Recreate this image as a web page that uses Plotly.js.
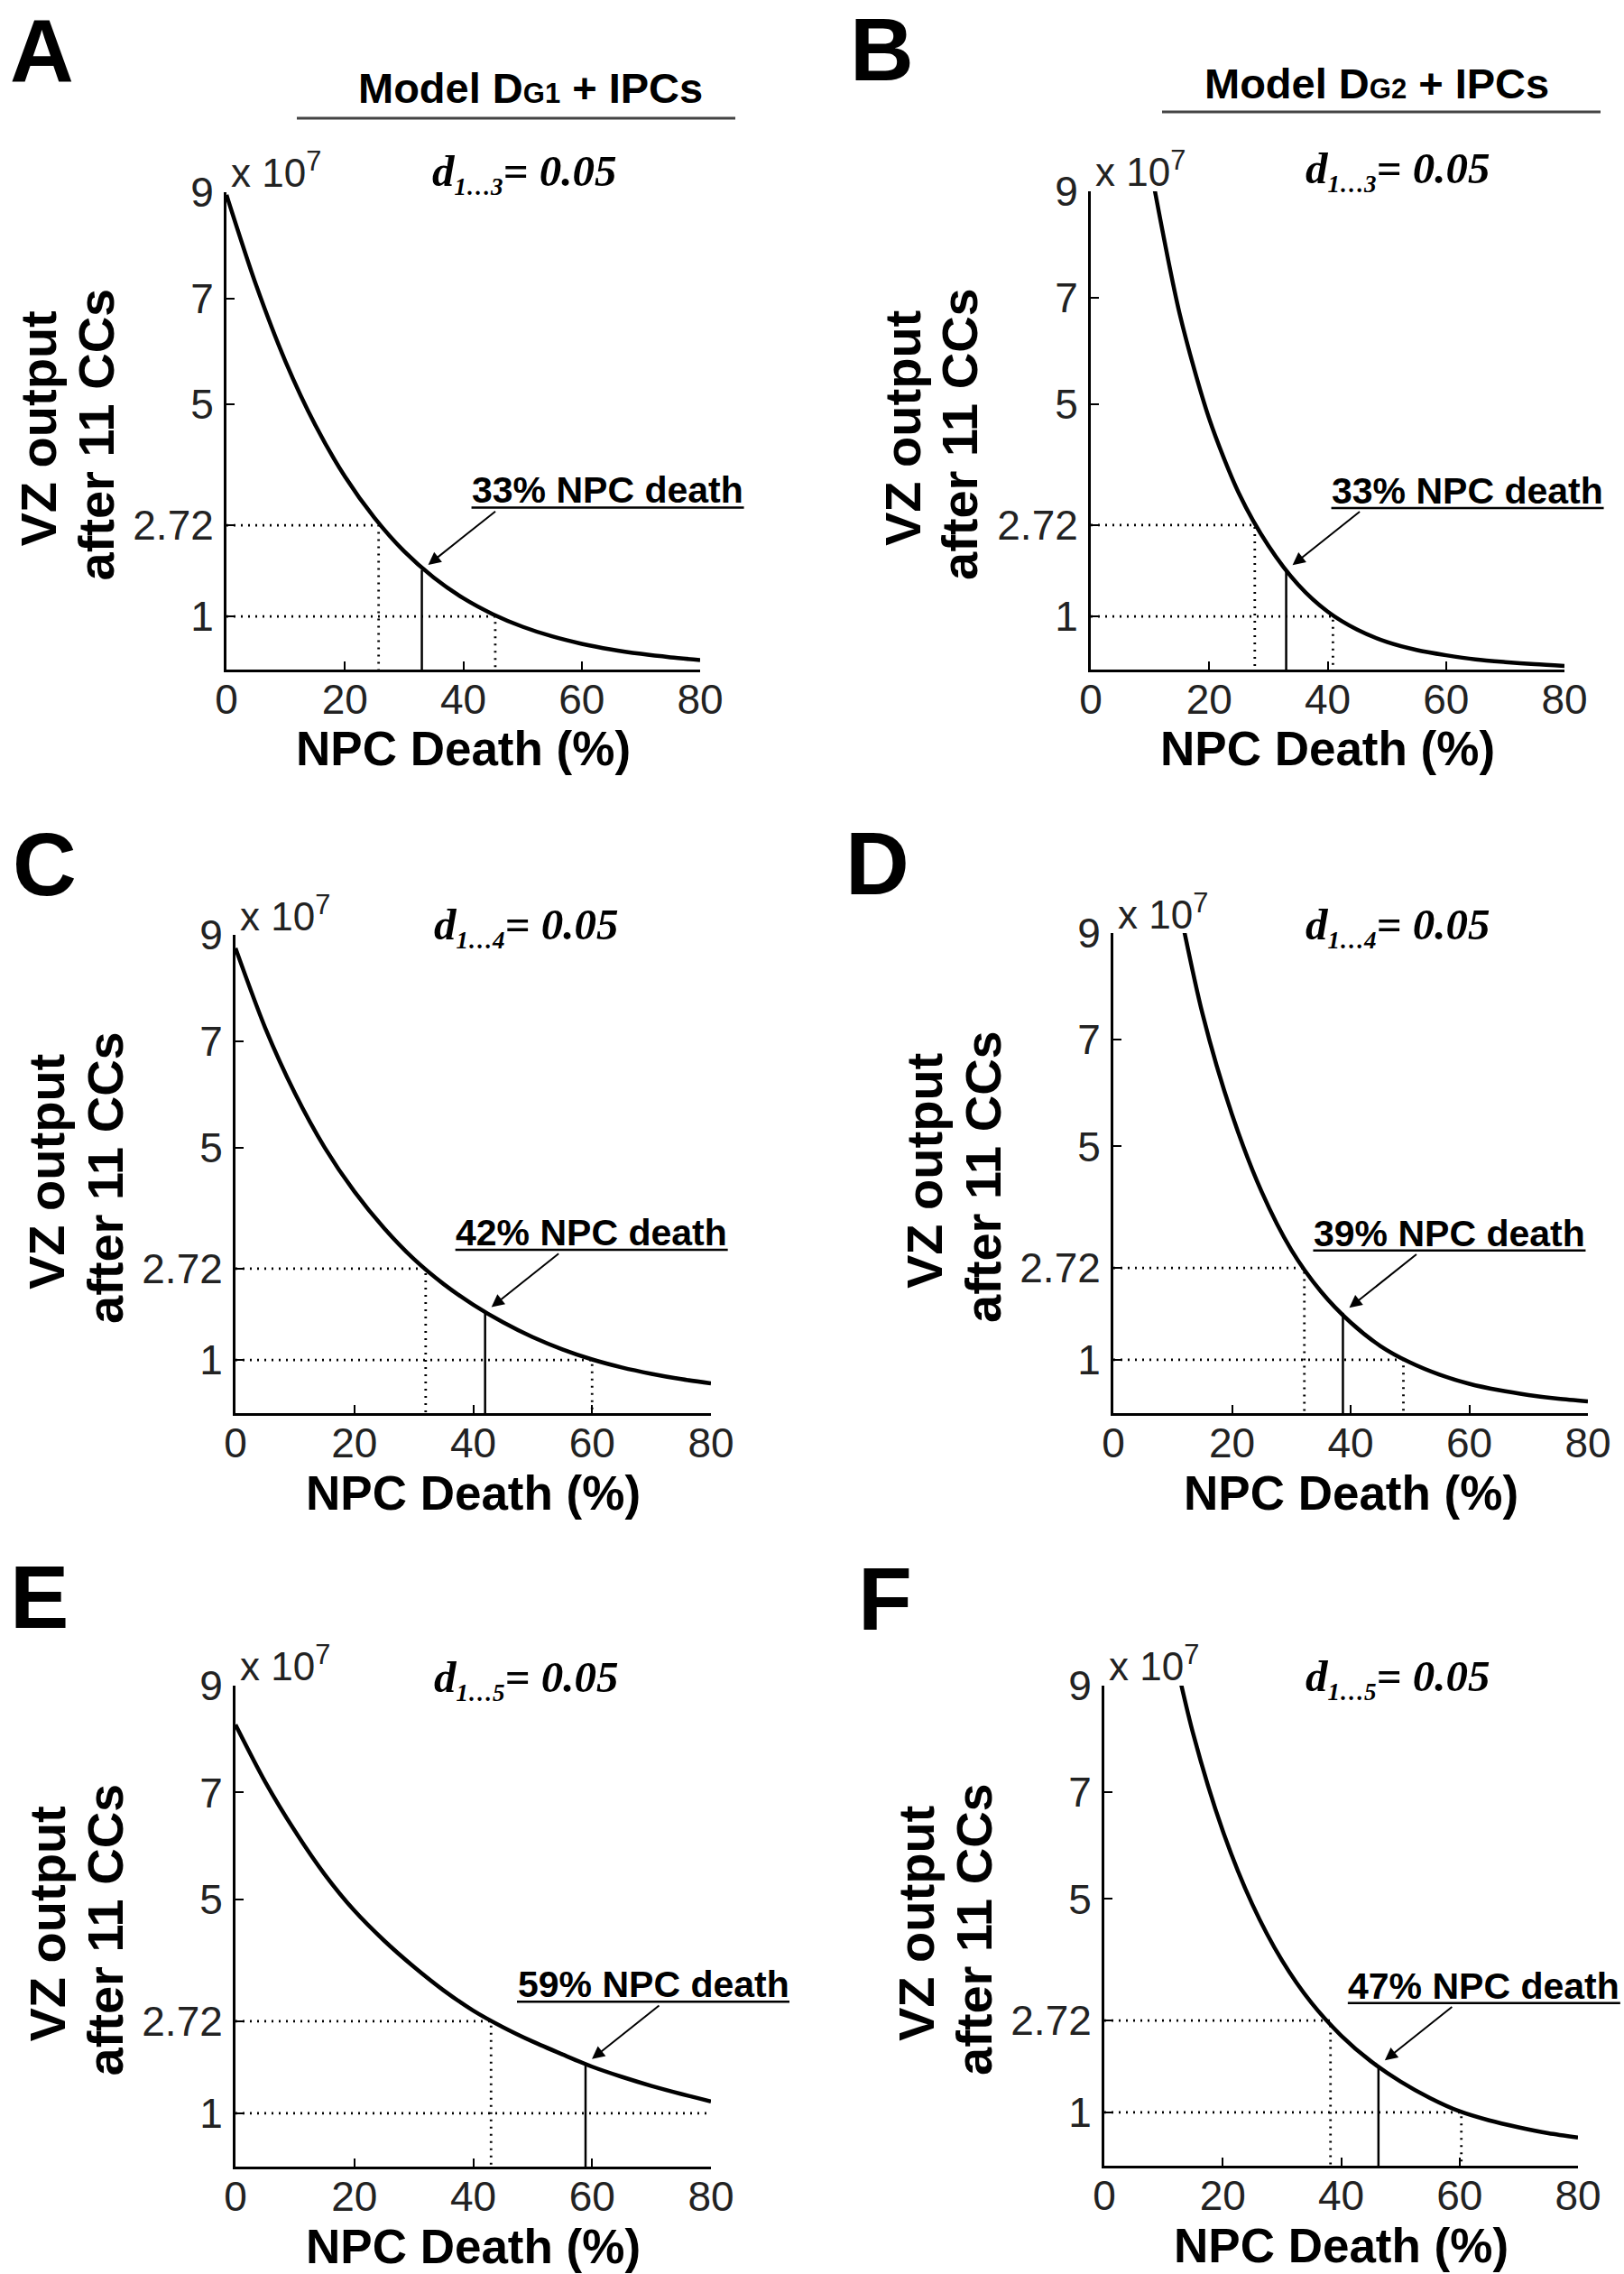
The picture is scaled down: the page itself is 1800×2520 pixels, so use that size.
<!DOCTYPE html>
<html>
<head>
<meta charset="utf-8">
<script src="https://cdn.plot.ly/plotly-3.0.1.min.js"></script>
<style>
  body { margin: 0; background: #fff; }
</style>
</head>
<body>
<div id="fig" style="width:1800px;height:2520px"></div>
<script>
W = 1800;
H = 2520;

// NPC death (%) where the curves were read
const deathPct = [0, 5, 10, 15, 20, 25, 30, 35, 40, 45, 50, 55, 60, 65, 70, 75, 80];
const deathPctLate = [10, 15, 20, 25, 30, 35, 40, 45, 50, 55, 60, 65, 70, 75, 80];

// VZ output after 11 CCs (x 10^7)
const vzA = [8.95, 7.25, 5.8, 4.61, 3.64, 2.86, 2.23, 1.735, 1.345, 1.043, 0.808, 0.626, 0.486, 0.379, 0.296, 0.231, 0.18];
const vzB = [9.5, 6.7, 4.72, 3.32, 2.33, 1.6, 1.09, 0.75, 0.52, 0.37, 0.27, 0.19, 0.14, 0.1, 0.07];
const vzC = [8.75, 7.25, 6.02, 5.0, 4.17, 3.48, 2.9, 2.43, 2.04, 1.71, 1.43, 1.2, 1.01, 0.86, 0.74, 0.64, 0.56];
const vzD = [10.1, 7.5, 5.6, 4.15, 3.06, 2.28, 1.7, 1.26, 0.95, 0.72, 0.55, 0.43, 0.34, 0.27, 0.22];
const vzE = [8.27, 7.2, 6.28, 5.47, 4.79, 4.23, 3.74, 3.3, 2.92, 2.61, 2.34, 2.1, 1.87, 1.68, 1.51, 1.36, 1.22];
const vzF = [10.5, 8.1, 6.28, 4.9, 3.85, 3.05, 2.44, 1.96, 1.58, 1.27, 1.02, 0.85, 0.72, 0.61, 0.53];

const panelLetters = ["A", "B", "C", "D", "E", "F"];
const dSubs = ["1\u20263", "1\u20263", "1\u20264", "1\u20264", "1\u20265", "1\u20265"];
const dValue = "0.05";

// where the curves cross 2.72 and 1 (null: never reaches 1)
const cross272 = [25.7, 27.7, 32.0, 32.2, 43.0, 38.2];
const cross1 = [45.4, 40.9, 60.0, 48.9, null, 60.3];

// marked NPC death and the curve value there
const markX = [33, 33, 42, 38.7, 58.9, 46.3];
const markY = [1.88, 1.87, 1.9, 1.88, 1.92, 1.88];
const markLabels = ["33% NPC death", "33% NPC death", "42% NPC death", "39% NPC death", "59% NPC death", "47% NPC death"];

const xTickVals = [0, 20, 40, 60, 80];
const yTickVals = [1, 2.72, 5, 7, 9];
const yTickText = ["1", "2.72", "5", "7", "9"];

const curves = [
    [deathPct, vzA], [deathPctLate, vzB],
    [deathPct, vzC], [deathPctLate, vzD],
    [deathPct, vzE], [deathPctLate, vzF]
];

// plot boxes in pixels
const boxes = [
    { l: 251, r: 776, t: 213, b: 742 },
    { l: 1209, r: 1734, t: 212, b: 742 },
    { l: 261, r: 788, t: 1036, b: 1566 },
    { l: 1234, r: 1760, t: 1034, b: 1566 },
    { l: 261, r: 788, t: 1868, b: 2401 },
    { l: 1224, r: 1749, t: 1868, b: 2400 }
];
const letterPos = [[9, 56], [940, 55], [12, 958], [935, 957], [9, 1770], [949, 1772]];
const dLabelPos = [[581, 192], [1549, 189], [583, 1027], [1549, 1027], [583, 1861], [1549, 1860]];
const labelDx = [206, 201, 118, 118, 75, 117];

const SANS = "Liberation Sans, Arial, Helvetica, sans-serif";
const SERIF = "Liberation Serif, Times New Roman, serif";

function px(p) { return p / W; }
function py(p) { return 1 - p / H; }
function dataPx(i, x) { return boxes[i].l + x / 80 * (boxes[i].r - boxes[i].l); }
function dataPy(i, y) { return boxes[i].b - y / 9 * (boxes[i].b - boxes[i].t); }

let traces = [];
let layout = {
    width: W,
    height: H,
    margin: { l: 0, r: 0, t: 0, b: 0 },
    paper_bgcolor: "#fff",
    plot_bgcolor: "rgba(0,0,0,0)",
    showlegend: false,
    hovermode: false,
    annotations: [],
    shapes: []
};

for (let i = 0; i < 6; i++) {
    let s = i == 0 ? "" : String(i + 1);
    let xa = "x" + s, ya = "y" + s;
    let box = boxes[i];

    traces.push({
        x: curves[i][0],
        y: curves[i][1],
        xaxis: xa, yaxis: ya,
        mode: "lines",
        line: { color: "#000", width: 4.5, shape: "spline", smoothing: 0.8 }
    });

    // dotted guides at 2.72 and 1
    let gx = [0, cross272[i], cross272[i], null, 0];
    let gy = [2.72, 2.72, 0, null, 1];
    if (cross1[i] === null) {
        gx.push(80); gy.push(1);
    } else {
        gx.push(cross1[i], cross1[i]); gy.push(1, 0);
    }
    traces.push({
        x: gx, y: gy,
        xaxis: xa, yaxis: ya,
        mode: "lines",
        line: { color: "#000", width: 2.8, dash: "2px,6px" }
    });

    // solid marker line
    traces.push({
        x: [markX[i], markX[i]],
        y: [0, markY[i]],
        xaxis: xa, yaxis: ya,
        mode: "lines",
        line: { color: "#000", width: 2.5 }
    });

    let axCommon = {
        showline: true,
        linewidth: 3,
        linecolor: "#000",
        ticks: "inside",
        ticklen: 9,
        tickwidth: 2,
        tickcolor: "#000",
        showgrid: false,
        zeroline: false,
        fixedrange: true,
        tickfont: { family: SANS, size: 46, color: "#222" }
    };
    layout["xaxis" + s] = Object.assign({}, axCommon, {
        domain: [px(box.l), px(box.r)],
        range: [0, 80],
        anchor: ya,
        tickvals: xTickVals,
        ticklabelstandoff: -9
    });
    layout["yaxis" + s] = Object.assign({}, axCommon, {
        domain: [py(box.b), py(box.t)],
        range: [0, 9],
        anchor: xa,
        tickvals: yTickVals,
        ticktext: yTickText,
        ticklabelstandoff: 2
    });

    let ann = layout.annotations;

    ann.push({
        xref: "paper", yref: "paper",
        x: px(letterPos[i][0]), y: py(letterPos[i][1]),
        xanchor: "left", yanchor: "middle", showarrow: false,
        text: "<b>" + panelLetters[i] + "</b>",
        font: { family: SANS, size: 98, color: "#000" }
    });

    ann.push({
        xref: "paper", yref: "paper",
        x: px(box.l + 3), y: py(box.t - 24),
        xanchor: "left", yanchor: "middle", showarrow: false,
        text: "x 10<sup>7</sup>",
        font: { family: SANS, size: 44, color: "#222" }
    });

    ann.push({
        xref: "paper", yref: "paper",
        x: px(dLabelPos[i][0]), y: py(dLabelPos[i][1]),
        xanchor: "center", yanchor: "middle", showarrow: false,
        text: "<b><i>d<sub><span style=\"font-size:27px\">" + dSubs[i] + "</span></sub>= " + dValue + "</i></b>",
        font: { family: SERIF, size: 49, color: "#000" }
    });

    let ytx = box.l - 177, yty = (box.t + box.b) / 2;
    ann.push({
        xref: "paper", yref: "paper",
        x: px(ytx - 32), y: py(yty - 2),
        xanchor: "center", yanchor: "middle", showarrow: false, textangle: -90,
        text: "<b>VZ output</b>",
        font: { family: SANS, size: 56, color: "#000" }
    });
    ann.push({
        xref: "paper", yref: "paper",
        x: px(ytx + 32), y: py(yty + 4),
        xanchor: "center", yanchor: "middle", showarrow: false, textangle: -90,
        text: "<b>after 11 CCs</b>",
        font: { family: SANS, size: 56, color: "#000" }
    });

    ann.push({
        xref: "paper", yref: "paper",
        x: px((box.l + box.r) / 2), y: py(box.b + 88),
        xanchor: "center", yanchor: "middle", showarrow: false,
        text: "<b>NPC Death (%)</b>",
        font: { family: SANS, size: 53, color: "#000" }
    });

    // NPC death label, underline and arrow
    let mx = dataPx(i, markX[i]), my = dataPy(i, markY[i]);
    let tx = mx + labelDx[i], ty = my - 88;
    ann.push({
        xref: "paper", yref: "paper",
        x: px(tx), y: py(ty),
        xanchor: "center", yanchor: "middle", showarrow: false,
        text: "<b>" + markLabels[i] + "</b>",
        font: { family: SANS, size: 41, color: "#000" }
    });
    layout.shapes.push({
        type: "line", xref: "paper", yref: "paper",
        x0: px(tx - 151), x1: px(tx + 151),
        y0: py(ty + 19), y1: py(ty + 19),
        line: { color: "#000", width: 2.5 }
    });
    ann.push({
        xref: "paper", yref: "paper",
        x: px(mx), y: py(my),
        ax: 83, ay: -66,
        text: " ",
        font: { size: 1 },
        showarrow: true,
        arrowhead: 2, arrowsize: 1.4, arrowwidth: 2, arrowcolor: "#000",
        standoff: 9
    });
}

// model headers over the two columns
const headers = [
    { text: "Model D<span style=\"font-size:31px\">G1</span> + IPCs", cx: 588, cy: 98, x0: 329, x1: 815, ly: 131 },
    { text: "Model D<span style=\"font-size:31px\">G2</span> + IPCs", cx: 1526, cy: 93, x0: 1288, x1: 1774, ly: 124 }
];
for (let h of headers) {
    layout.annotations.push({
        xref: "paper", yref: "paper",
        x: px(h.cx), y: py(h.cy),
        xanchor: "center", yanchor: "middle", showarrow: false,
        text: "<b>" + h.text + "</b>",
        font: { family: SANS, size: 47, color: "#000" }
    });
    layout.shapes.push({
        type: "line", xref: "paper", yref: "paper",
        x0: px(h.x0), x1: px(h.x1), y0: py(h.ly), y1: py(h.ly),
        line: { color: "#444", width: 3 }
    });
}

Plotly.newPlot("fig", traces, layout, { displayModeBar: false, staticPlot: true });
</script>
</body>
</html>
